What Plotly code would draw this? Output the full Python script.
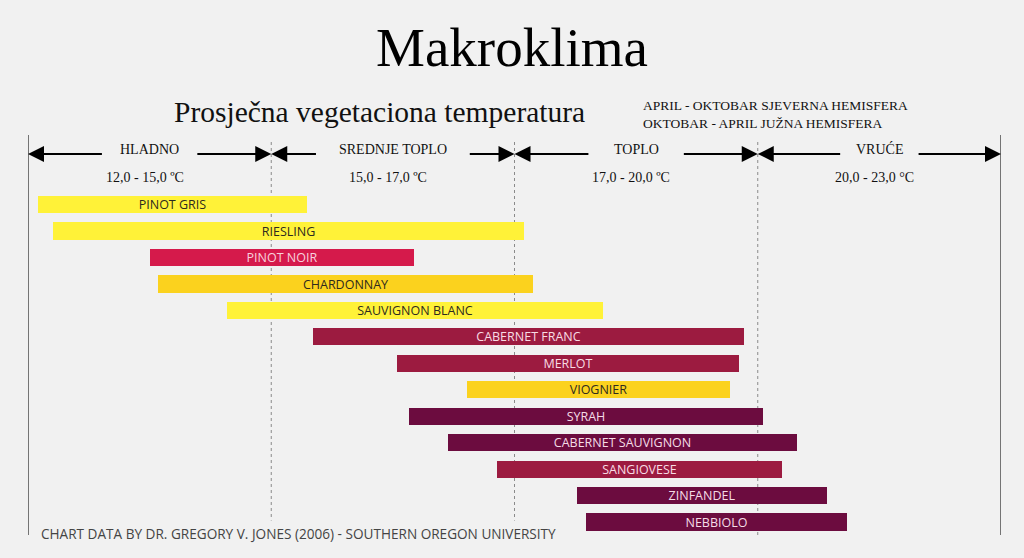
import numpy as np
import plotly.graph_objects as go

# ---------------- data ----------------
VARIETIES = ["PINOT GRIS", "RIESLING", "PINOT NOIR", "CHARDONNAY", "SAUVIGNON BLANC",
             "CABERNET FRANC", "MERLOT", "VIOGNIER", "SYRAH", "CABERNET SAUVIGNON",
             "SANGIOVESE", "ZINFANDEL", "NEBBIOLO"]
T_MIN = [12.12, 12.31, 13.51, 13.60, 14.45, 15.34, 16.03, 16.61, 16.13, 16.45, 16.86, 17.77, 17.88]
T_MAX = [15.29, 17.12, 16.17, 17.23, 18.09, 19.83, 19.77, 19.66, 20.07, 20.48, 20.30, 20.86, 21.10]
WINE_GROUP = ["white", "white", "pinot", "gold", "white", "red", "red", "gold",
              "dark", "dark", "red", "dark", "dark"]

ZONE_EDGES_T = [12.0, 15.0, 17.0, 20.0, 23.0]
ZONE_NAMES = ["HLADNO", "SREDNJE TOPLO", "TOPLO", "VRUĆE"]
ZONE_RANGES = ["12,0 - 15,0 ºC", "15,0 - 17,0 ºC", "17,0 - 20,0 ºC", "20,0 - 23,0 °C"]

TITLE = "Makroklima"
SUBTITLE = "Prosječna vegetaciona temperatura"
SEASON_NOTE = "APRIL - OKTOBAR SJEVERNA HEMISFERA<br>OKTOBAR - APRIL JUŽNA HEMISFERA"
SOURCE = "CHART DATA BY DR. GREGORY V. JONES (2006) - SOUTHERN OREGON UNIVERSITY"

# ---------------- style ----------------
BG = "#F1F1F1"
SERIF = "Liberation Serif"
SANS = "Open Sans"
GROUP_COLOR = {"white": "#FFF238", "gold": "#FBD21E", "pinot": "#D51A4B",
               "red": "#9C1B40", "dark": "#6C0C3F"}
GROUP_TEXT = {"white": "#2E2A1E", "gold": "#2E2A1E", "pinot": "#F8D0DC",
              "red": "#F8DCE4", "dark": "#F5DCE6"}

W, H = 1024, 558
L, R, T, B = 28, 23, 135, 23
zone_pos = np.arange(len(ZONE_EDGES_T), dtype=float)   # 0..4 zone scale


def to_axis(temps):
    return np.interp(np.asarray(temps, dtype=float), ZONE_EDGES_T, zone_pos)


def py(p):  # pixel row -> paper y
    return (H - B - p) / (H - T - B)


def px(p):  # pixel col -> paper x
    return (p - L) / (W - L - R)


x0 = to_axis(T_MIN)
x1 = to_axis(T_MAX)
rows = np.arange(len(VARIETIES))

fig = go.Figure()
fig.add_trace(go.Bar(
    y=rows, x=x1 - x0, base=x0, orientation="h", width=0.65,
    marker=dict(color=[GROUP_COLOR[g] for g in WINE_GROUP], line=dict(width=0)),
    text=VARIETIES, textposition="inside", insidetextanchor="middle", textangle=0,
    constraintext="none",
    textfont=dict(family=SANS, size=12.5, color=[GROUP_TEXT[g] for g in WINE_GROUP]),
    hoverinfo="skip", showlegend=False,
))

shapes = []
for i, e in enumerate(zone_pos):
    solid = i in (0, len(zone_pos) - 1)
    shapes.append(dict(type="line", xref="x", yref="paper", x0=e, x1=e,
                       y0=py(535), y1=py(135 if solid else 140),
                       line=dict(color="#4A4A4A" if solid else "#8A8A8A",
                                 width=1.5 if solid else 1,
                                 dash="solid" if solid else "3px,3px"), layer="below"))

annotations = []
ARROW_Y = py(154)
# half-gap (in zone units) left open around each zone label
GAPS = [0.19, 0.31, 0.19, 0.155]
for i, name in enumerate(ZONE_NAMES):
    c = (zone_pos[i] + zone_pos[i + 1]) / 2
    annotations.append(dict(xref="x", yref="paper", x=c, y=py(149), text=name, showarrow=False,
                            font=dict(family=SERIF, size=14, color="#111"),
                            xanchor="center", yanchor="middle"))
    annotations.append(dict(xref="x", yref="paper", x=c, y=py(177), text=ZONE_RANGES[i],
                            showarrow=False, xshift=-5,
                            font=dict(family=SERIF, size=14, color="#111"),
                            xanchor="center", yanchor="middle"))
    for head, tail in ((zone_pos[i], c - GAPS[i]), (zone_pos[i + 1], c + GAPS[i])):
        annotations.append(dict(xref="x", yref="paper", x=head, y=ARROW_Y,
                                axref="x", ax=tail, ayref="pixel", ay=0, text="",
                                showarrow=True, arrowhead=2, arrowsize=1.6, arrowwidth=2,
                                arrowcolor="#000", standoff=0))

annotations += [
    dict(xref="paper", yref="paper", x=px(512), y=py(47), text=TITLE, showarrow=False,
         font=dict(family=SERIF, size=55, color="#000"), xanchor="center", yanchor="middle"),
    dict(xref="paper", yref="paper", x=px(379), y=py(112), text=SUBTITLE, showarrow=False,
         font=dict(family=SERIF, size=29.5, color="#111"), xanchor="center", yanchor="middle"),
    dict(xref="paper", yref="paper", x=px(641), y=py(114), text=SEASON_NOTE, showarrow=False,
         align="left", font=dict(family=SERIF, size=13.5, color="#111"),
         xanchor="left", yanchor="middle"),
    dict(xref="paper", yref="paper", x=px(37), y=py(533), text=SOURCE, showarrow=False,
         bgcolor=BG, borderpad=3, font=dict(family=SANS, size=13.6, color="#444"),
         xanchor="left", yanchor="middle"),
]

fig.update_layout(
    width=W, height=H, margin=dict(l=L, r=R, t=T, b=B),
    paper_bgcolor=BG, plot_bgcolor=BG,
    xaxis=dict(range=[zone_pos[0], zone_pos[-1]], visible=False, fixedrange=True),
    yaxis=dict(range=[12.49, -2.63], visible=False, fixedrange=True),
    shapes=shapes, annotations=annotations, bargap=0,
)

fig.write_html("out.html", config={"displayModeBar": False},
               post_script="document.body.style.margin='0';document.body.style.background='%s';" % BG)
